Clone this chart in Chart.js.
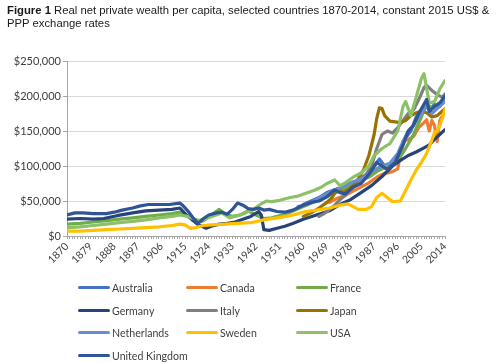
<!DOCTYPE html>
<html>
<head>
<meta charset="utf-8">
<script src="https://cdn.jsdelivr.net/npm/chart.js@4.4.1/dist/chart.umd.min.js"></script>
<style>
  html, body { margin: 0; padding: 0; background: #fff; }
  #wrap { position: relative; width: 500px; height: 363px; overflow: hidden; }
  #title { position: absolute; left: 7px; top: 4px; font-family: "Liberation Sans", Arial, sans-serif;
           font-size: 11.3px; line-height: 13px; color: #1a1a1a; white-space: nowrap; }
  #chart { position: absolute; left: 0; top: 0; }
  .lg { position: absolute; font-family: Lato, "Open Sans", sans-serif; font-size: 10.6px; color: #404040;
        height: 14px; line-height: 14px; white-space: nowrap; }
  .lg i { position: absolute; left: -34px; top: 5px; width: 32px; height: 3px; border-radius: 2px; }
</style>
</head>
<body>
<div id="wrap">
  <canvas id="chart" width="500" height="363"></canvas>
  <div id="title"><b>Figure 1</b> Real net private wealth per capita, selected countries 1870-2014, constant 2015 US$ &amp;<br>PPP exchange rates</div>
</div>
<script>
// years shown on the x axis
const tickLabels = ['1870','1879','1888','1897','1906','1915','1924','1933','1942','1951','1960','1969','1978','1987','1996','2005','2014'];

// wealth per capita, thousands of constant 2015 US$ ([year, value])
const australia = [[1960,45],[1963,50],[1966,55],[1969,62],[1972,66],[1975,68],[1978,75],[1981,80],[1984,88],[1987,100],[1989,110],[1991,100],[1993,98],[1995,105],[1997,120],[1999,140],[2001,150],[2003,170],[2005,180],[2007,190],[2008,180],[2010,188],[2012,185],[2014,198]];
const canada = [[1970,48],[1973,54],[1976,58],[1979,64],[1981,68],[1983,72],[1985,76],[1988,84],[1990,88],[1992,90],[1994,92],[1996,96],[1997,115],[1998,135],[2000,138],[2002,142],[2004,155],[2006,162],[2007,166],[2008,150],[2009,165],[2010,158],[2011,135],[2012,165],[2014,178]];
const france = [[1870,17],[1875,18],[1880,20],[1885,22],[1890,24],[1895,26],[1900,28],[1905,30],[1910,32],[1913,34],[1915,30],[1918,24],[1920,20],[1922,22],[1925,30],[1928,38],[1930,32],[1933,28],[1936,30],[1939,36],[1942,30],[1945,25],[1948,26],[1950,28],[1955,34],[1960,42],[1965,50],[1970,58],[1975,66],[1980,78],[1985,84],[1988,92],[1990,96],[1993,100],[1996,108],[1999,125],[2002,145],[2005,170],[2007,190],[2009,182],[2011,188],[2014,195]];
const germany = [[1870,24],[1875,25],[1880,24],[1884,25],[1889,29],[1895,33],[1900,36],[1905,37],[1910,38],[1913,40],[1915,32],[1918,22],[1920,16],[1923,11],[1925,14],[1928,17],[1931,18],[1934,20],[1937,24],[1940,28],[1943,35],[1944,30],[1945,9],[1947,8],[1950,11],[1953,14],[1956,18],[1960,24],[1965,30],[1970,36],[1974,45],[1978,52],[1982,62],[1986,72],[1990,85],[1994,100],[1997,108],[2000,115],[2003,120],[2006,126],[2008,130],[2010,138],[2012,145],[2014,152]];
const italy = [[1966,28],[1968,32],[1970,38],[1972,44],[1974,52],[1976,58],[1978,66],[1980,72],[1982,78],[1984,88],[1986,100],[1988,125],[1990,145],[1992,150],[1994,147],[1996,155],[1998,165],[2000,175],[2002,180],[2004,195],[2006,212],[2007,215],[2009,208],[2011,202],[2013,198],[2014,203]];
const japan = [[1960,28],[1963,33],[1966,40],[1969,48],[1971,55],[1973,68],[1975,62],[1977,66],[1979,72],[1981,82],[1983,95],[1985,115],[1987,145],[1988,168],[1989,183],[1990,182],[1991,172],[1993,164],[1995,163],[1997,162],[1999,165],[2001,172],[2003,176],[2005,178],[2007,176],[2009,170],[2011,172],[2014,182]];
const netherlands = [[1958,42],[1960,44],[1963,48],[1966,54],[1969,60],[1972,66],[1975,70],[1978,76],[1981,80],[1984,86],[1987,94],[1990,100],[1993,104],[1996,118],[1998,135],[2000,150],[2002,158],[2004,170],[2007,185],[2009,175],[2011,182],[2014,192]];
const sweden = [[1870,7],[1875,7],[1880,8],[1885,9],[1890,10],[1895,11],[1900,12],[1905,13],[1910,15],[1913,17],[1915,16],[1917,11],[1919,12],[1922,15],[1925,16],[1930,17],[1935,18],[1940,19],[1945,23],[1950,26],[1955,29],[1960,34],[1965,37],[1970,40],[1974,44],[1977,46],[1979,42],[1981,38],[1984,38],[1986,42],[1988,55],[1990,61],[1992,55],[1994,49],[1997,50],[1999,65],[2001,80],[2003,94],[2005,105],[2007,118],[2009,137],[2010,148],[2011,150],[2012,158],[2013,168],[2014,182]];
const usa = [[1870,12],[1875,13],[1880,15],[1885,17],[1890,19],[1895,21],[1900,23],[1905,26],[1910,28],[1913,30],[1916,28],[1918,25],[1920,22],[1923,25],[1926,29],[1929,33],[1932,26],[1935,29],[1938,33],[1941,38],[1944,46],[1946,50],[1948,49],[1951,51],[1955,55],[1958,57],[1961,61],[1964,65],[1967,70],[1969,75],[1972,80],[1974,72],[1976,76],[1979,84],[1982,90],[1985,100],[1987,115],[1990,125],[1993,132],[1996,150],[1998,185],[1999,192],[2001,172],[2003,198],[2005,225],[2006,232],[2008,190],[2010,192],[2012,210],[2014,222]];
const uk = [[1870,30],[1873,33],[1876,33],[1880,32],[1885,32],[1888,34],[1891,37],[1895,40],[1898,43],[1901,45],[1905,45],[1909,45],[1913,47],[1914,44],[1916,36],[1918,26],[1920,18],[1922,25],[1924,30],[1927,33],[1929,34],[1931,31],[1933,38],[1935,47],[1937,44],[1939,39],[1941,38],[1943,40],[1945,37],[1947,38],[1950,35],[1953,34],[1956,37],[1960,44],[1963,48],[1966,50],[1969,56],[1972,66],[1974,62],[1976,60],[1979,70],[1982,75],[1985,88],[1988,105],[1990,100],[1992,95],[1995,105],[1998,130],[2000,150],[2002,158],[2004,175],[2007,195],[2008,178],[2010,185],[2012,190],[2014,200]];

const names = ['Australia','Canada','France','Germany','Italy','Japan','Netherlands','Sweden','USA','United Kingdom'];
const series = [australia, canada, france, germany, italy, japan, netherlands, sweden, usa, uk];
const colors = ['#4472C4','#ED7D31','#70AD47','#264478','#7F7F7F','#997300','#698ED0','#FFC000','#8CC168','#2F5597'];

const datasets = names.map((name, i) => ({
  label: name,
  data: series[i].map(p => ({ x: p[0], y: p[1] })),
  borderColor: colors[i],
  backgroundColor: colors[i],
  borderWidth: 3.2,
  pointRadius: 0,
  tension: 0,
  borderJoinStyle: 'round',
  borderCapStyle: 'round',
  order: names.length - i   // later series drawn on top, like the original
}));

const ctx = document.getElementById('chart').getContext('2d');
new Chart(ctx, {
  type: 'line',
  data: { datasets: datasets },
  options: {
    responsive: false,
    animation: false,
    layout: { padding: { top: 61, right: 55, left: 0, bottom: 0 } },
    plugins: { legend: { display: false }, tooltip: { enabled: false } },
    scales: {
      x: {
        type: 'linear',
        min: 1870,
        max: 2014,
        afterBuildTicks: scale => {
          const t = [];
          for (let y = 1870; y <= 2014; y++) t.push({ value: y });
          scale.ticks = t;
        },
        afterFit: scale => { scale.height = 127; },
        grid: { drawOnChartArea: false, drawTicks: true, tickLength: 3, color: '#A6A6A6' },
        border: { color: '#A6A6A6' },
        ticks: {
          autoSkip: false,
          minRotation: 45,
          maxRotation: 45,
          padding: 1,
          color: '#404040',
          font: { family: 'Lato', size: 10.5 },
          callback: v => tickLabels.includes(String(v)) ? String(v) : ''
        }
      },
      y: {
        min: 0,
        max: 250,
        afterFit: scale => { scale.width = 67; },
        grid: { color: '#D9D9D9', tickLength: 4, tickColor: '#A6A6A6' },
        border: { color: '#A6A6A6' },
        ticks: {
          stepSize: 50,
          padding: 2,
          color: '#404040',
          font: { family: 'Lato', size: 11 },
          callback: v => '$' + (v * 1000).toLocaleString('en-US')
        }
      }
    }
  }
});

// legend, three columns like the original
const wrap = document.getElementById('wrap');
const colX = [112, 220, 330];
const rowY = [281, 304, 326, 349];
names.forEach((name, i) => {
  const d = document.createElement('div');
  d.className = 'lg';
  d.style.left = colX[i % 3] + 'px';
  d.style.top = rowY[Math.floor(i / 3)] + 'px';
  d.innerHTML = '<i style="background:' + colors[i] + '"></i>' + name;
  wrap.appendChild(d);
});
</script>
</body>
</html>
